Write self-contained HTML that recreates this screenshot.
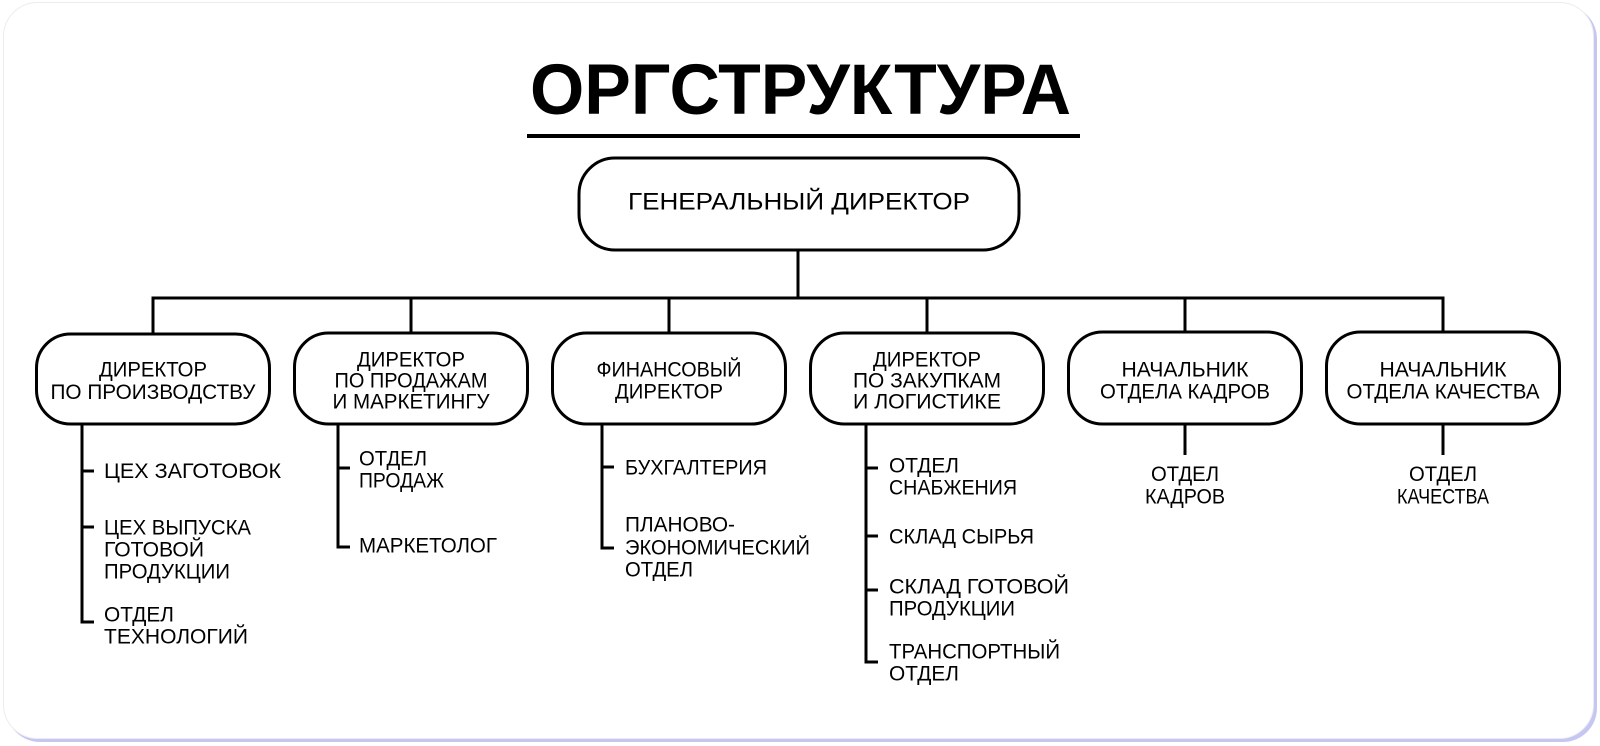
<!DOCTYPE html>
<html>
<head>
<meta charset="utf-8">
<style>
  html, body { margin: 0; padding: 0; background: #ffffff; }
  body { width: 1600px; height: 746px; overflow: hidden; }
  svg { display: block; }
  text { font-family: "Liberation Sans", "DejaVu Sans", sans-serif; fill: #000; }
  .lbl { font-size: 21px; }
  .ln { stroke: #000; stroke-width: 3; fill: none; }
  .box { stroke: #000; stroke-width: 3; fill: #fff; }
</style>
</head>
<body>
<svg width="1600" height="746" viewBox="0 0 1600 746" xmlns="http://www.w3.org/2000/svg">
  <!-- card -->
  <rect x="6" y="5" width="1591" height="737" rx="34" ry="34" fill="#c6c6f2"/>
  <rect x="3.5" y="2.5" width="1590" height="736" rx="34" ry="34" fill="#ffffff" stroke="#ececf0" stroke-width="1"/>

  <!-- title -->
  <text x="530" y="114" font-size="71" font-weight="bold" textLength="541" lengthAdjust="spacingAndGlyphs">ОРГСТРУКТУРА</text>
  <line x1="527" y1="136" x2="1080" y2="136" stroke="#000" stroke-width="4"/>

  <!-- general director -->
  <rect class="box" x="579" y="158" width="440" height="92" rx="36" ry="36"/>
  <text x="628" y="209.5" font-size="24" textLength="342" lengthAdjust="spacingAndGlyphs">ГЕНЕРАЛЬНЫЙ ДИРЕКТОР</text>

  <!-- main connectors -->
  <line class="ln" x1="798" y1="250" x2="798" y2="298"/>
  <path class="ln" d="M153 333 V298 H1443 V333"/>
  <line class="ln" x1="411" y1="298" x2="411" y2="333"/>
  <line class="ln" x1="669" y1="298" x2="669" y2="333"/>
  <line class="ln" x1="927" y1="298" x2="927" y2="333"/>
  <line class="ln" x1="1185" y1="298" x2="1185" y2="333"/>

  <!-- boxes -->
  <rect class="box" x="36.5" y="334" width="233" height="90" rx="34" ry="34"/>
  <rect class="box" x="294.5" y="333" width="233" height="91" rx="34" ry="34"/>
  <rect class="box" x="552.5" y="333" width="233" height="91" rx="34" ry="34"/>
  <rect class="box" x="810.5" y="333" width="233" height="91" rx="34" ry="34"/>
  <rect class="box" x="1068.5" y="332" width="233" height="92" rx="34" ry="34"/>
  <rect class="box" x="1326.5" y="332" width="233" height="92" rx="34" ry="34"/>

  <!-- box texts -->
  <text class="lbl" x="99" y="376.5" textLength="108" lengthAdjust="spacingAndGlyphs">ДИРЕКТОР</text>
  <text class="lbl" x="50.5" y="399" textLength="205" lengthAdjust="spacingAndGlyphs">ПО ПРОИЗВОДСТВУ</text>

  <text class="lbl" x="357" y="366.5" textLength="108" lengthAdjust="spacingAndGlyphs">ДИРЕКТОР</text>
  <text class="lbl" x="334.5" y="387.5" textLength="153" lengthAdjust="spacingAndGlyphs">ПО ПРОДАЖАМ</text>
  <text class="lbl" x="332.5" y="408.5" textLength="157" lengthAdjust="spacingAndGlyphs">И МАРКЕТИНГУ</text>

  <text class="lbl" x="596.5" y="376.5" textLength="145" lengthAdjust="spacingAndGlyphs">ФИНАНСОВЫЙ</text>
  <text class="lbl" x="615" y="398.5" textLength="108" lengthAdjust="spacingAndGlyphs">ДИРЕКТОР</text>

  <text class="lbl" x="873" y="366.5" textLength="108" lengthAdjust="spacingAndGlyphs">ДИРЕКТОР</text>
  <text class="lbl" x="853" y="387.5" textLength="148" lengthAdjust="spacingAndGlyphs">ПО ЗАКУПКАМ</text>
  <text class="lbl" x="853" y="408.5" textLength="148" lengthAdjust="spacingAndGlyphs">И ЛОГИСТИКЕ</text>

  <text class="lbl" x="1121.5" y="376.5" textLength="127" lengthAdjust="spacingAndGlyphs">НАЧАЛЬНИК</text>
  <text class="lbl" x="1100" y="398.5" textLength="170" lengthAdjust="spacingAndGlyphs">ОТДЕЛА КАДРОВ</text>

  <text class="lbl" x="1379.5" y="376.5" textLength="127" lengthAdjust="spacingAndGlyphs">НАЧАЛЬНИК</text>
  <text class="lbl" x="1346.5" y="398.5" textLength="193" lengthAdjust="spacingAndGlyphs">ОТДЕЛА КАЧЕСТВА</text>

  <!-- column 1 list -->
  <path class="ln" d="M82 424 V622 H94"/>
  <line class="ln" x1="82" y1="471" x2="94" y2="471"/>
  <line class="ln" x1="82" y1="527" x2="94" y2="527"/>
  <text class="lbl" x="104" y="478" textLength="177" lengthAdjust="spacingAndGlyphs">ЦЕХ ЗАГОТОВОК</text>
  <text class="lbl" x="104" y="534.5" textLength="147" lengthAdjust="spacingAndGlyphs">ЦЕХ ВЫПУСКА</text>
  <text class="lbl" x="104" y="556.5" textLength="100" lengthAdjust="spacingAndGlyphs">ГОТОВОЙ</text>
  <text class="lbl" x="104" y="578.5" textLength="126" lengthAdjust="spacingAndGlyphs">ПРОДУКЦИИ</text>
  <text class="lbl" x="104" y="621.5" textLength="70" lengthAdjust="spacingAndGlyphs">ОТДЕЛ</text>
  <text class="lbl" x="104" y="643.5" textLength="144" lengthAdjust="spacingAndGlyphs">ТЕХНОЛОГИЙ</text>

  <!-- column 2 list -->
  <path class="ln" d="M338 424 V547 H350"/>
  <line class="ln" x1="338" y1="468" x2="350" y2="468"/>
  <text class="lbl" x="359" y="465.5" textLength="68" lengthAdjust="spacingAndGlyphs">ОТДЕЛ</text>
  <text class="lbl" x="359" y="487.5" textLength="85" lengthAdjust="spacingAndGlyphs">ПРОДАЖ</text>
  <text class="lbl" x="359" y="552.5" textLength="138" lengthAdjust="spacingAndGlyphs">МАРКЕТОЛОГ</text>

  <!-- column 3 list -->
  <path class="ln" d="M602 424 V548 H614"/>
  <line class="ln" x1="602" y1="467" x2="614" y2="467"/>
  <text class="lbl" x="625" y="474.5" textLength="142" lengthAdjust="spacingAndGlyphs">БУХГАЛТЕРИЯ</text>
  <text class="lbl" x="625" y="531.5" textLength="110" lengthAdjust="spacingAndGlyphs">ПЛАНОВО-</text>
  <text class="lbl" x="625" y="554.5" textLength="185" lengthAdjust="spacingAndGlyphs">ЭКОНОМИЧЕСКИЙ</text>
  <text class="lbl" x="625" y="576.5" textLength="68" lengthAdjust="spacingAndGlyphs">ОТДЕЛ</text>

  <!-- column 4 list -->
  <path class="ln" d="M866 424 V662 H878"/>
  <line class="ln" x1="866" y1="468" x2="878" y2="468"/>
  <line class="ln" x1="866" y1="536" x2="878" y2="536"/>
  <line class="ln" x1="866" y1="590" x2="878" y2="590"/>
  <text class="lbl" x="889" y="472.5" textLength="70" lengthAdjust="spacingAndGlyphs">ОТДЕЛ</text>
  <text class="lbl" x="889" y="494.5" textLength="128" lengthAdjust="spacingAndGlyphs">СНАБЖЕНИЯ</text>
  <text class="lbl" x="889" y="543.5" textLength="145" lengthAdjust="spacingAndGlyphs">СКЛАД СЫРЬЯ</text>
  <text class="lbl" x="889" y="593.5" textLength="180" lengthAdjust="spacingAndGlyphs">СКЛАД ГОТОВОЙ</text>
  <text class="lbl" x="889" y="615.5" textLength="126" lengthAdjust="spacingAndGlyphs">ПРОДУКЦИИ</text>
  <text class="lbl" x="889" y="658.5" textLength="171" lengthAdjust="spacingAndGlyphs">ТРАНСПОРТНЫЙ</text>
  <text class="lbl" x="889" y="680.5" textLength="70" lengthAdjust="spacingAndGlyphs">ОТДЕЛ</text>

  <!-- column 5 -->
  <line class="ln" x1="1185" y1="424" x2="1185" y2="455"/>
  <text class="lbl" x="1151" y="481" textLength="68" lengthAdjust="spacingAndGlyphs">ОТДЕЛ</text>
  <text class="lbl" x="1145" y="503.5" textLength="80" lengthAdjust="spacingAndGlyphs">КАДРОВ</text>

  <!-- column 6 -->
  <line class="ln" x1="1443" y1="424" x2="1443" y2="455"/>
  <text class="lbl" x="1409" y="481" textLength="68" lengthAdjust="spacingAndGlyphs">ОТДЕЛ</text>
  <text class="lbl" x="1397" y="503.5" textLength="92" lengthAdjust="spacingAndGlyphs">КАЧЕСТВА</text>
</svg>
</body>
</html>
